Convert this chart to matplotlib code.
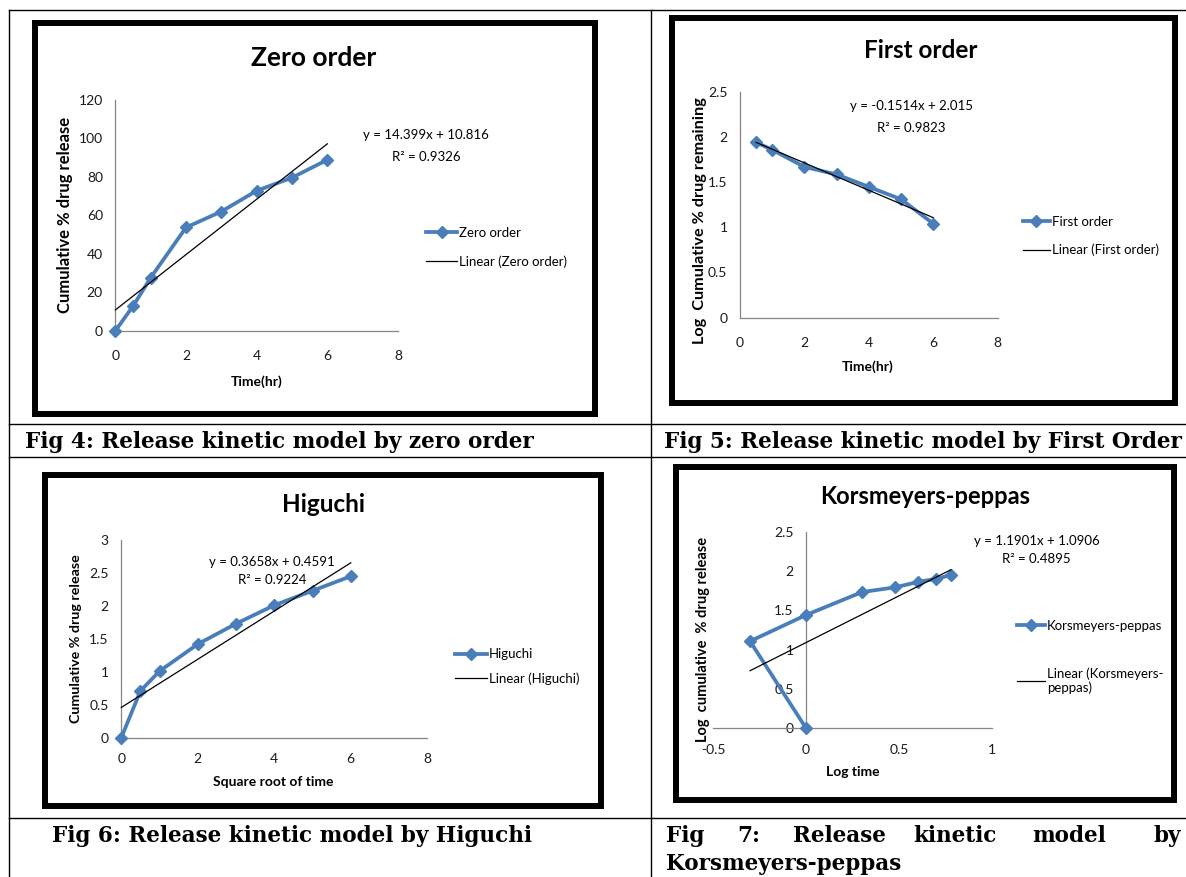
"""Release kinetic models: zero order, first order, Higuchi, Korsmeyer-Peppas."""

import matplotlib
import matplotlib.pyplot as plt
from matplotlib.lines import Line2D
from matplotlib.patches import Rectangle

matplotlib.use("Agg")

W, H = 1186, 877

# --- data ---
zero_t = [0, 0.5, 1, 2, 3, 4, 5, 6]
zero_release = [0, 12.8, 27.6, 53.7, 62.0, 72.8, 79.6, 88.9]
zero_fit = (14.399, 10.816)
zero_r2 = 0.9326

first_t = [0.5, 1, 2, 3, 4, 5, 6]
first_log_remaining = [1.94, 1.857, 1.668, 1.585, 1.447, 1.31, 1.04]
first_fit = (-0.1514, 2.015)
first_r2 = 0.9823

higuchi_x = [0, 0.5, 1, 2, 3, 4, 5, 6]
higuchi_y = [0, 0.71, 1.01, 1.42, 1.73, 2.01, 2.23, 2.45]
higuchi_fit = (0.3658, 0.4591)
higuchi_r2 = 0.9224

kp_log_t = [0, -0.301, 0, 0.301, 0.477, 0.602, 0.699, 0.778]
kp_log_release = [0, 1.107, 1.441, 1.733, 1.792, 1.862, 1.901, 1.949]
kp_fit = (1.1901, 1.0906)
kp_r2 = 0.4895

BLUE = "#4A7EBB"
AXIS_GRAY = "#868686"
FONT = "Lato"

fig = plt.figure(figsize=(W / 100, H / 100), dpi=100)


def fbox(x0, y0, x1, y1):
    return [x0 / W, 1 - y1 / H, (x1 - x0) / W, (y1 - y0) / H]


def fpt(x, y):
    return x / W, 1 - y / H


def ftext(x, y, s, **kw):
    kw.setdefault("family", FONT)
    kw.setdefault("ha", "center")
    kw.setdefault("va", "center")
    fig.text(*fpt(x, y), s, **kw)


def fmt_fit(m, b):
    sign = "+" if b >= 0 else "-"
    return f"y = {m:g}x {sign} {abs(b):g}"


def chart(frame, box, xs, ys, fit, r2, name, xlim, ylim, xticks, yticks,
          title, title_xy, title_fs, xlabel, xlabel_xy, ylabel, ylabel_xy, ylabel_fs,
          eq_xy, eq_step, leg_xy, leg_len, leg_spacing, linear_label=None,
          xpad=12, zero_spine=False):
    x0, y0, x1, y1 = frame
    fig.add_artist(Rectangle(fpt(x0 + 3, y1 - 3), (x1 - x0 - 6) / W, (y1 - y0 - 6) / H,
                             transform=fig.transFigure, fill=False, lw=4.3, ec="black"))
    ax = fig.add_axes(fbox(*box))
    ax.patch.set_alpha(0)
    ln, = ax.plot(xs, ys, color=BLUE, lw=2.7, marker="D", ms=6, mec=BLUE, mfc=BLUE,
                  label=name, clip_on=False, zorder=3)
    m, b = fit
    fx = [min(xs), max(xs)]
    tl, = ax.plot(fx, [m * v + b for v in fx], color="black", lw=0.9,
                  label=linear_label or f"Linear ({name})", zorder=4, clip_on=False)
    ax.set_xlim(*xlim)
    ax.set_ylim(*ylim)
    ax.set_xticks(xticks)
    ax.set_yticks(yticks)
    ax.set_xticklabels([f"{v:g}" for v in xticks])
    ax.set_yticklabels([f"{v:g}" for v in yticks])
    for s in ("top", "right"):
        ax.spines[s].set_visible(False)
    for s in ("left", "bottom"):
        ax.spines[s].set_color(AXIS_GRAY)
        ax.spines[s].set_linewidth(0.9)
    if zero_spine:
        ax.spines["left"].set_position(("data", 0))
    ax.tick_params(axis="x", length=0, pad=xpad, labelsize=10, labelcolor="#1a1a1a")
    ax.tick_params(axis="y", length=0, pad=9, labelsize=10, labelcolor="#1a1a1a")
    for lab in ax.get_xticklabels() + ax.get_yticklabels():
        lab.set_family(FONT)

    ftext(*title_xy, title, fontsize=title_fs, weight="bold")
    ftext(*xlabel_xy, xlabel, fontsize=10, weight="bold")
    ftext(*ylabel_xy, ylabel, fontsize=ylabel_fs, weight="bold", rotation=90)
    ftext(eq_xy[0], eq_xy[1], fmt_fit(m, b), fontsize=9.5)
    ftext(eq_xy[0], eq_xy[1] + eq_step, f"R\u00b2 = {r2:g}", fontsize=9.5)

    ax.legend(handles=[ln, tl], loc="center left", bbox_to_anchor=fpt(*leg_xy),
              bbox_transform=fig.transFigure, frameon=False, borderpad=0,
              borderaxespad=0, handlelength=leg_len, handletextpad=0.15,
              labelspacing=leg_spacing, numpoints=1,
              prop={"family": FONT, "size": 9.5})
    return ax


chart((32, 20, 598, 417), (115.4, 100, 398, 330.7), zero_t, zero_release, zero_fit, zero_r2,
      "Zero order", (0, 8), (0, 120), [0, 2, 4, 6, 8], [0, 20, 40, 60, 80, 100, 120],
      "Zero order", (314, 58), 19, "Time(hr)", (257, 382),
      "Cumulative % drug release", (65, 215), 12,
      (426, 135), 22, (426, 247.5), 2.35, 1.25, xpad=14)

chart((669, 15, 1178, 406), (740, 91.7, 997.7, 317.7), first_t, first_log_remaining,
      first_fit, first_r2, "First order", (0, 8), (0, 2.5), [0, 2, 4, 6, 8],
      [0, 0.5, 1, 1.5, 2, 2.5],
      "First order", (921, 50), 17.5, "Time(hr)", (868, 367),
      "Log  Cumulative % drug remaining", (700, 221), 11.7,
      (911.5, 105.7), 22, (1022.7, 236), 2.07, 1.2, xpad=14)

chart((42, 472, 604, 809), (121.3, 540, 427.3, 737.7), higuchi_x, higuchi_y, higuchi_fit,
      higuchi_r2, "Higuchi", (0, 8), (0, 3), [0, 2, 4, 6, 8],
      [0, 0.5, 1, 1.5, 2, 2.5, 3],
      "Higuchi", (324, 505), 17.5, "Square root of time", (273, 782),
      "Cumulative % drug release", (75.6, 639), 10.3,
      (272, 561.7), 18.3, (455, 666.7), 2.4, 0.9, xpad=11)

chart((673, 464, 1177, 803), (713, 531.7, 992.3, 728.3), kp_log_t, kp_log_release, kp_fit,
      kp_r2, "Korsmeyers-peppas", (-0.5, 1), (0, 2.5), [-0.5, 0, 0.5, 1],
      [0, 0.5, 1, 1.5, 2, 2.5],
      "Korsmeyers-peppas", (925, 496.7), 17, "Log time", (852.7, 771.7),
      "Log  cumulative  % drug release", (703, 639), 10.5,
      (1036.7, 540.7), 18.3, (1016.7, 657), 2.14, 2.7,
      linear_label="Linear (Korsmeyers-\npeppas)", xpad=11, zero_spine=True)

# --- table grid ---
TL = dict(color="black", lw=1.0, transform=fig.transFigure)
for yy in (10, 423.5, 457, 818):
    fig.add_artist(Line2D([8.5 / W, 1], [1 - yy / H] * 2, **TL))
for xx in (8.5, 651):
    fig.add_artist(Line2D([xx / W] * 2, [1 - 10 / H, 0], **TL))

# --- captions ---
CAP = dict(family="DejaVu Serif", weight="bold", fontsize=15.5, ha="left")
ftext(25, 442, "Fig 4: Release kinetic model by zero order", **CAP)
ftext(664, 442, "Fig 5: Release kinetic model by First Order", **CAP)
ftext(52, 836, "Fig 6: Release kinetic model by Higuchi", **CAP)
for word, xx in zip(["Fig", "7:", "Release", "kinetic", "model", "by"],
                    [666, 737, 793, 913, 1032, 1153]):
    ftext(xx, 836, word, **CAP)
ftext(666, 864, "Korsmeyers-peppas", **CAP)

fig.savefig("out.png", dpi=100)
